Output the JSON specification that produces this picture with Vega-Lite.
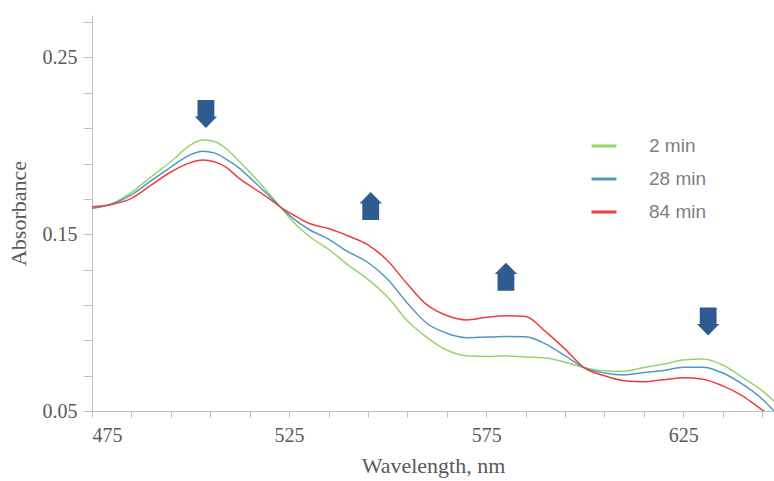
{
  "$schema": "https://vega.github.io/schema/vega-lite/v6.json",
  "width": 682,
  "height": 396,
  "autosize": {"type": "none"},
  "padding": {"left": 92, "top": 15, "right": 0, "bottom": 70},
  "background": "white",
  "config": {
    "view": {"stroke": null},
    "axis": {
      "grid": false,
      "domainColor": "#bfbfbf",
      "tickColor": "#bfbfbf",
      "labelFont": "Liberation Serif",
      "labelFontSize": 20,
      "labelColor": "#595959",
      "titleFont": "Liberation Serif",
      "titleFontSize": 22,
      "titleFontWeight": "normal",
      "titleColor": "#595959"
    }
  },
  "datasets": {
    "spectra": [
      {"wl": 475, "abs": 0.1647, "series": "2 min"},
      {"wl": 480, "abs": 0.1672, "series": "2 min"},
      {"wl": 485, "abs": 0.1736, "series": "2 min"},
      {"wl": 490, "abs": 0.1825, "series": "2 min"},
      {"wl": 495, "abs": 0.1910, "series": "2 min"},
      {"wl": 500, "abs": 0.2005, "series": "2 min"},
      {"wl": 503, "abs": 0.2033, "series": "2 min"},
      {"wl": 506, "abs": 0.2025, "series": "2 min"},
      {"wl": 509, "abs": 0.1985, "series": "2 min"},
      {"wl": 512, "abs": 0.1920, "series": "2 min"},
      {"wl": 516, "abs": 0.1828, "series": "2 min"},
      {"wl": 520, "abs": 0.1728, "series": "2 min"},
      {"wl": 523, "abs": 0.1650, "series": "2 min"},
      {"wl": 526, "abs": 0.1570, "series": "2 min"},
      {"wl": 530, "abs": 0.1490, "series": "2 min"},
      {"wl": 535, "abs": 0.1415, "series": "2 min"},
      {"wl": 540, "abs": 0.1325, "series": "2 min"},
      {"wl": 545, "abs": 0.1245, "series": "2 min"},
      {"wl": 550, "abs": 0.1145, "series": "2 min"},
      {"wl": 555, "abs": 0.1010, "series": "2 min"},
      {"wl": 560, "abs": 0.0915, "series": "2 min"},
      {"wl": 565, "abs": 0.0845, "series": "2 min"},
      {"wl": 570, "abs": 0.0812, "series": "2 min"},
      {"wl": 575, "abs": 0.0808, "series": "2 min"},
      {"wl": 580, "abs": 0.0812, "series": "2 min"},
      {"wl": 585, "abs": 0.0805, "series": "2 min"},
      {"wl": 590, "abs": 0.0800, "series": "2 min"},
      {"wl": 595, "abs": 0.0776, "series": "2 min"},
      {"wl": 600, "abs": 0.0745, "series": "2 min"},
      {"wl": 605, "abs": 0.0728, "series": "2 min"},
      {"wl": 610, "abs": 0.0725, "series": "2 min"},
      {"wl": 615, "abs": 0.0746, "series": "2 min"},
      {"wl": 620, "abs": 0.0766, "series": "2 min"},
      {"wl": 625, "abs": 0.0788, "series": "2 min"},
      {"wl": 630, "abs": 0.0794, "series": "2 min"},
      {"wl": 635, "abs": 0.0760, "series": "2 min"},
      {"wl": 640, "abs": 0.0690, "series": "2 min"},
      {"wl": 645, "abs": 0.0615, "series": "2 min"},
      {"wl": 648, "abs": 0.0555, "series": "2 min"},
      {"wl": 475, "abs": 0.1647, "series": "28 min"},
      {"wl": 480, "abs": 0.1670, "series": "28 min"},
      {"wl": 485, "abs": 0.1722, "series": "28 min"},
      {"wl": 490, "abs": 0.1803, "series": "28 min"},
      {"wl": 495, "abs": 0.1880, "series": "28 min"},
      {"wl": 500, "abs": 0.1950, "series": "28 min"},
      {"wl": 503, "abs": 0.1970, "series": "28 min"},
      {"wl": 506, "abs": 0.1960, "series": "28 min"},
      {"wl": 509, "abs": 0.1925, "series": "28 min"},
      {"wl": 512, "abs": 0.1880, "series": "28 min"},
      {"wl": 516, "abs": 0.1800, "series": "28 min"},
      {"wl": 520, "abs": 0.1715, "series": "28 min"},
      {"wl": 523, "abs": 0.1650, "series": "28 min"},
      {"wl": 526, "abs": 0.1590, "series": "28 min"},
      {"wl": 530, "abs": 0.1528, "series": "28 min"},
      {"wl": 535, "abs": 0.1472, "series": "28 min"},
      {"wl": 540, "abs": 0.1400, "series": "28 min"},
      {"wl": 545, "abs": 0.1340, "series": "28 min"},
      {"wl": 550, "abs": 0.1245, "series": "28 min"},
      {"wl": 555, "abs": 0.1110, "series": "28 min"},
      {"wl": 560, "abs": 0.0995, "series": "28 min"},
      {"wl": 565, "abs": 0.0940, "series": "28 min"},
      {"wl": 570, "abs": 0.0915, "series": "28 min"},
      {"wl": 575, "abs": 0.0918, "series": "28 min"},
      {"wl": 580, "abs": 0.0921, "series": "28 min"},
      {"wl": 585, "abs": 0.0920, "series": "28 min"},
      {"wl": 590, "abs": 0.0880, "series": "28 min"},
      {"wl": 595, "abs": 0.0813, "series": "28 min"},
      {"wl": 600, "abs": 0.0743, "series": "28 min"},
      {"wl": 605, "abs": 0.0715, "series": "28 min"},
      {"wl": 610, "abs": 0.0704, "series": "28 min"},
      {"wl": 615, "abs": 0.0718, "series": "28 min"},
      {"wl": 620, "abs": 0.0729, "series": "28 min"},
      {"wl": 625, "abs": 0.0748, "series": "28 min"},
      {"wl": 630, "abs": 0.0748, "series": "28 min"},
      {"wl": 635, "abs": 0.0715, "series": "28 min"},
      {"wl": 640, "abs": 0.0652, "series": "28 min"},
      {"wl": 645, "abs": 0.0568, "series": "28 min"},
      {"wl": 648, "abs": 0.0500, "series": "28 min"},
      {"wl": 475, "abs": 0.1656, "series": "84 min"},
      {"wl": 480, "abs": 0.1668, "series": "84 min"},
      {"wl": 485, "abs": 0.1703, "series": "84 min"},
      {"wl": 490, "abs": 0.1778, "series": "84 min"},
      {"wl": 495, "abs": 0.1852, "series": "84 min"},
      {"wl": 500, "abs": 0.1905, "series": "84 min"},
      {"wl": 503, "abs": 0.1920, "series": "84 min"},
      {"wl": 506, "abs": 0.1910, "series": "84 min"},
      {"wl": 509, "abs": 0.1880, "series": "84 min"},
      {"wl": 512, "abs": 0.1822, "series": "84 min"},
      {"wl": 516, "abs": 0.1760, "series": "84 min"},
      {"wl": 520, "abs": 0.1700, "series": "84 min"},
      {"wl": 523, "abs": 0.1650, "series": "84 min"},
      {"wl": 526, "abs": 0.1610, "series": "84 min"},
      {"wl": 530, "abs": 0.1562, "series": "84 min"},
      {"wl": 535, "abs": 0.1532, "series": "84 min"},
      {"wl": 540, "abs": 0.1490, "series": "84 min"},
      {"wl": 545, "abs": 0.1440, "series": "84 min"},
      {"wl": 550, "abs": 0.1350, "series": "84 min"},
      {"wl": 555, "abs": 0.1218, "series": "84 min"},
      {"wl": 560, "abs": 0.1100, "series": "84 min"},
      {"wl": 565, "abs": 0.1040, "series": "84 min"},
      {"wl": 570, "abs": 0.1015, "series": "84 min"},
      {"wl": 575, "abs": 0.1030, "series": "84 min"},
      {"wl": 580, "abs": 0.1039, "series": "84 min"},
      {"wl": 585, "abs": 0.1035, "series": "84 min"},
      {"wl": 590, "abs": 0.0950, "series": "84 min"},
      {"wl": 595, "abs": 0.0850, "series": "84 min"},
      {"wl": 600, "abs": 0.0743, "series": "84 min"},
      {"wl": 605, "abs": 0.0699, "series": "84 min"},
      {"wl": 610, "abs": 0.0671, "series": "84 min"},
      {"wl": 615, "abs": 0.0665, "series": "84 min"},
      {"wl": 620, "abs": 0.0677, "series": "84 min"},
      {"wl": 625, "abs": 0.0688, "series": "84 min"},
      {"wl": 630, "abs": 0.0680, "series": "84 min"},
      {"wl": 635, "abs": 0.0642, "series": "84 min"},
      {"wl": 640, "abs": 0.0586, "series": "84 min"},
      {"wl": 645, "abs": 0.0506, "series": "84 min"},
      {"wl": 648, "abs": 0.0460, "series": "84 min"}
    ],
    "arrows": [
      {"wl": 503.9, "abs": 0.218, "dir": "down"},
      {"wl": 545.7, "abs": 0.166, "dir": "up"},
      {"wl": 580.0, "abs": 0.126, "dir": "up"},
      {"wl": 631.3, "abs": 0.1006, "dir": "down"}
    ]
  },
  "layer": [
    {
      "data": {"name": "spectra"},
      "mark": {"type": "line", "strokeWidth": 1.5, "interpolate": "monotone", "clip": true},
      "encoding": {
        "x": {
          "field": "wl", "type": "quantitative",
          "scale": {"domain": [475, 648], "nice": false, "zero": false},
          "axis": {
            "title": "Wavelength, nm",
            "values": [475, 485, 495, 505, 515, 525, 535, 545, 555, 565, 575, 585, 595, 605, 615, 625, 635, 645],
            "tickCount": 40,
            "labelExpr": "indexof(['475','525','575','625'], datum.label) >= 0 ? datum.label : ''",
            "format": "d",
            "tickSize": 6,
            "labelPadding": 8,
            "titlePadding": 10,
            "labelOverlap": false
          }
        },
        "y": {
          "field": "abs", "type": "quantitative",
          "scale": {"domain": [0.05, 0.274], "nice": false, "zero": false},
          "axis": {
            "title": "Absorbance",
            "values": [0.05, 0.07, 0.09, 0.11, 0.13, 0.15, 0.17, 0.19, 0.21, 0.23, 0.25, 0.27],
            "tickCount": 40,
            "format": ".2f",
            "labelExpr": "indexof(['0.05','0.15','0.25'], datum.label) >= 0 ? datum.label : ''",
            "tickSize": 9,
            "labelPadding": 6,
            "titlePadding": 12,
            "labelOverlap": false
          }
        },
        "color": {
          "field": "series", "type": "nominal",
          "scale": {"domain": ["2 min", "28 min", "84 min"], "range": ["#9ad26a", "#4e98c4", "#f03c3c"]},
          "legend": {
            "title": null,
            "orient": "none",
            "legendX": 498,
            "legendY": 117,
            "symbolType": "stroke",
            "symbolSize": 625,
            "symbolStrokeWidth": 3,
            "labelFont": "Liberation Sans",
            "labelFontSize": 19,
            "labelColor": "#7f7f7f",
            "labelOffset": 31,
            "rowPadding": 9,
            "encode": {
              "symbols": {
                "update": {
                  "stroke": {"signal": "datum.value == '2 min' ? '#22dd22' : datum.value == '28 min' ? '#5b9bd5' : '#ff0000'"}
                }
              }
            }
          }
        }
      }
    },
    {
      "data": {"name": "arrows"},
      "mark": {"type": "point", "filled": true, "opacity": 1, "color": "#2e5c8e", "size": 784},
      "encoding": {
        "x": {"field": "wl", "type": "quantitative"},
        "y": {"field": "abs", "type": "quantitative"},
        "shape": {
          "field": "dir", "type": "nominal",
          "scale": {
            "domain": ["down", "up"],
            "range": [
              "M-0.6,-1L0.6,-1L0.6,0.18L0.8,0.18L0,1L-0.8,0.18L-0.6,0.18Z",
              "M-0.6,1L0.6,1L0.6,-0.18L0.8,-0.18L0,-1L-0.8,-0.18L-0.6,-0.18Z"
            ]
          },
          "legend": null
        }
      }
    }
  ]
}
